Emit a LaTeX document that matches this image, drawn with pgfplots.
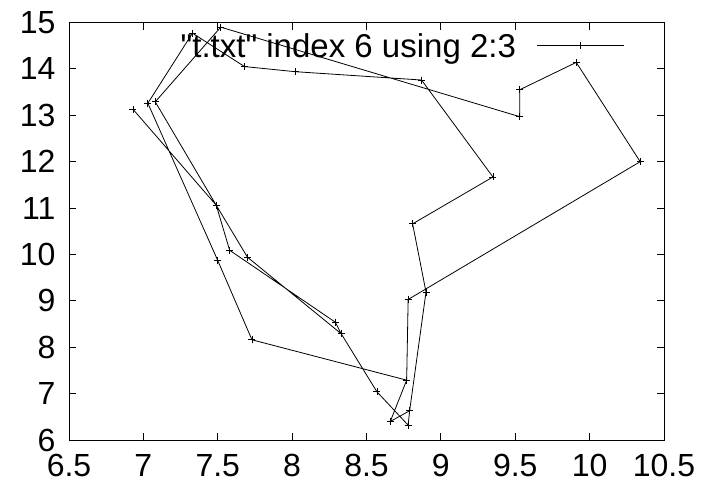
\documentclass[border=0pt]{standalone}
\usepackage{fontspec}
\setmainfont{Liberation Sans}
\usepackage{pgfplots}
\pgfplotsset{compat=1.18}
\newcommand{\sq}{\XeTeXglyph\XeTeXcharglyph"0022\relax}
\begin{document}
\begin{tikzpicture}[font=\fontsize{32}{38}\selectfont]
\useasboundingbox (-69pt,-56pt) rectangle (634pt,440pt);
\begin{axis}[
  at={(0pt,0pt)}, anchor=south west,
  scale only axis, width=595pt, height=417.5pt,
  xmin=6.5, xmax=10.5, ymin=6, ymax=15,
  xtick={6.5,7,7.5,8,8.5,9,9.5,10,10.5},
  ytick={6,7,8,9,10,11,12,13,14,15},
  /pgf/number format/assume math mode=true,
  tick align=inside, major tick length=7pt,
  tick style={black, line width=0.8pt},
  axis line style={black, line width=1pt},
  xticklabel style={yshift=-11pt},
  yticklabel style={xshift=-10pt},
  unbounded coords=jump,
  legend plot pos=right,
  legend style={draw=none, fill=none, inner sep=0pt, outer sep=0pt,
    at={(axis description cs:0.934,0.944)}, anchor=east,
    font=\fontsize{33}{39}\selectfont,
    /tikz/every odd column/.append style={column sep=19pt}},
  legend image code/.code={\draw[mark repeat=2,mark phase=2] plot coordinates {(0pt,0pt) (43.5pt,0pt) (87pt,0pt)};},
]
\addplot[black, line width=0.8pt, mark=+, mark size=3.5pt, mark options={line width=0.8pt}] coordinates {
(6.93,13.13) (7.49,11.06) (7.58,10.09) (8.29,8.54) (8.33,8.29) (8.57,7.04)
(8.78,6.32) (8.79,6.63) (8.90,9.19) (8.81,10.66) (9.35,11.67) (8.87,13.76)
(8.02,13.94) (7.68,14.05) (7.33,14.77) (7.03,13.26) (7.50,9.87) (7.73,8.16)
(8.77,7.29) (8.66,6.40) (8.79,6.63)
(nan,nan)
(8.77,7.29) (8.78,9.03) (10.34,12.00) (9.91,14.14) (9.53,13.55) (9.53,12.97)
(7.52,14.90) (7.08,13.29) (7.49,11.06) (7.70,9.94) (8.33,8.29)
};
\addlegendentry{\sq t.txt\sq{} index 6 using 2:3}
\end{axis}
\end{tikzpicture}
\end{document}
